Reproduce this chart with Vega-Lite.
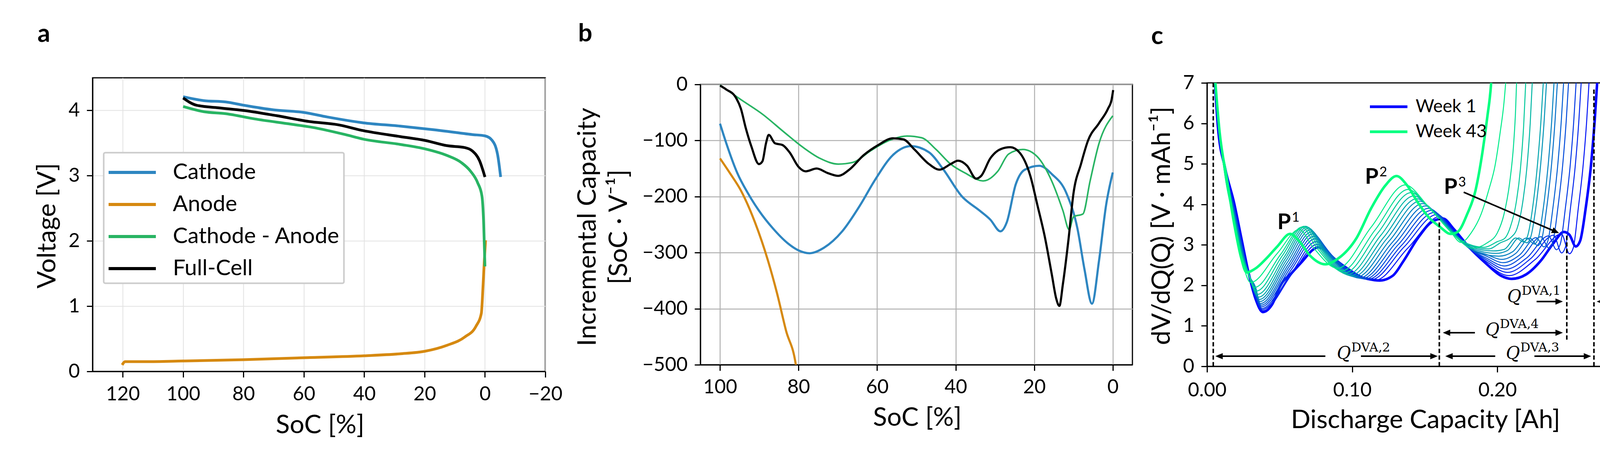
{
  "$schema": "https://vega.github.io/schema/vega-lite/v6.json",
  "background": "white",
  "padding": {"left": 86, "top": 53, "right": 140, "bottom": 0},
  "config": {
    "font": "Lato",
    "view": {"stroke": "black", "strokeWidth": 3},
    "axis": {
      "domainColor": "black", "domainWidth": 3, "tickColor": "black", "tickWidth": 3, "tickSize": 15,
      "labelFont": "Lato", "labelFontSize": 50, "labelColor": "black", "labelPadding": 18,
      "labelFlush": false, "labelOverlap": false,
      "titleFont": "Lato", "titleFontSize": 66, "titleFontWeight": "normal", "titleColor": "black",
      "titleBaseline": "alphabetic", "titleAlign": "center", "grid": false
    },
    "axisX": {"labelBaseline": "alphabetic", "labelPadding": 56},
    "axisY": {"titleAngle": -90},
    "title": {"font": "Lato", "fontSize": 64, "fontWeight": "bold", "anchor": "start", "frame": "group", "color": "black", "baseline": "alphabetic"},
    "legend": {"labelFont": "Lato", "labelColor": "black", "labelLimit": 0, "strokeWidth": 4}
  },
  "datasets": {
    "a": [
      {"s": "Cathode", "x": 100, "y": 4.21}, {"s": "Cathode", "x": 93.1, "y": 4.15}, {"s": "Cathode", "x": 85.9, "y": 4.13},
      {"s": "Cathode", "x": 80, "y": 4.08}, {"s": "Cathode", "x": 70.3, "y": 4.01}, {"s": "Cathode", "x": 60.1, "y": 3.97},
      {"s": "Cathode", "x": 52.3, "y": 3.9}, {"s": "Cathode", "x": 40.3, "y": 3.81}, {"s": "Cathode", "x": 28.2, "y": 3.76},
      {"s": "Cathode", "x": 16.2, "y": 3.7}, {"s": "Cathode", "x": 4.2, "y": 3.63}, {"s": "Cathode", "x": 0, "y": 3.61},
      {"s": "Cathode", "x": -2.4, "y": 3.54}, {"s": "Cathode", "x": -4.2, "y": 3.32}, {"s": "Cathode", "x": -5.2, "y": 2.98},
      {"s": "Anode", "x": 120.2, "y": 0.1}, {"s": "Anode", "x": 119.2, "y": 0.15}, {"s": "Anode", "x": 112.4, "y": 0.15},
      {"s": "Anode", "x": 100, "y": 0.16}, {"s": "Anode", "x": 80, "y": 0.18}, {"s": "Anode", "x": 60, "y": 0.21},
      {"s": "Anode", "x": 40, "y": 0.24}, {"s": "Anode", "x": 28.2, "y": 0.27}, {"s": "Anode", "x": 19.8, "y": 0.31},
      {"s": "Anode", "x": 12.6, "y": 0.4}, {"s": "Anode", "x": 6.6, "y": 0.53}, {"s": "Anode", "x": 3, "y": 0.69},
      {"s": "Anode", "x": 1.2, "y": 0.89}, {"s": "Anode", "x": 0.6, "y": 1.34}, {"s": "Anode", "x": 0.2, "y": 1.7},
      {"s": "Anode", "x": -0.2, "y": 2.01},
      {"s": "Cathode - Anode", "x": 100, "y": 4.06}, {"s": "Cathode - Anode", "x": 93.1, "y": 3.98}, {"s": "Cathode - Anode", "x": 85.9, "y": 3.95},
      {"s": "Cathode - Anode", "x": 76.3, "y": 3.87}, {"s": "Cathode - Anode", "x": 64.3, "y": 3.79}, {"s": "Cathode - Anode", "x": 57.1, "y": 3.74},
      {"s": "Cathode - Anode", "x": 46.3, "y": 3.63}, {"s": "Cathode - Anode", "x": 40.3, "y": 3.56}, {"s": "Cathode - Anode", "x": 28.2, "y": 3.48},
      {"s": "Cathode - Anode", "x": 19.8, "y": 3.41}, {"s": "Cathode - Anode", "x": 12.6, "y": 3.31}, {"s": "Cathode - Anode", "x": 7.8, "y": 3.2},
      {"s": "Cathode - Anode", "x": 4.8, "y": 3.07}, {"s": "Cathode - Anode", "x": 2.4, "y": 2.89}, {"s": "Cathode - Anode", "x": 1, "y": 2.69},
      {"s": "Cathode - Anode", "x": 0.4, "y": 2.24}, {"s": "Cathode - Anode", "x": 0, "y": 1.61},
      {"s": "Full-Cell", "x": 100, "y": 4.19}, {"s": "Full-Cell", "x": 95.6, "y": 4.08}, {"s": "Full-Cell", "x": 88.3, "y": 4.04},
      {"s": "Full-Cell", "x": 80, "y": 4.0}, {"s": "Full-Cell", "x": 69.1, "y": 3.92}, {"s": "Full-Cell", "x": 58.3, "y": 3.83},
      {"s": "Full-Cell", "x": 48.7, "y": 3.78}, {"s": "Full-Cell", "x": 40.3, "y": 3.69}, {"s": "Full-Cell", "x": 28.2, "y": 3.6},
      {"s": "Full-Cell", "x": 19.8, "y": 3.54}, {"s": "Full-Cell", "x": 12.6, "y": 3.46}, {"s": "Full-Cell", "x": 6.6, "y": 3.43},
      {"s": "Full-Cell", "x": 4.2, "y": 3.38}, {"s": "Full-Cell", "x": 1.8, "y": 3.23}, {"s": "Full-Cell", "x": 0, "y": 2.98}
    ],
    "b": [
      {"s": "Cathode", "x": 100, "y": -70}, {"s": "Cathode", "x": 98.4, "y": -105}, {"s": "Cathode", "x": 95.6, "y": -158},
      {"s": "Cathode", "x": 92.9, "y": -194}, {"s": "Cathode", "x": 90.1, "y": -225}, {"s": "Cathode", "x": 86.5, "y": -257},
      {"s": "Cathode", "x": 82.8, "y": -283}, {"s": "Cathode", "x": 80, "y": -296}, {"s": "Cathode", "x": 77.2, "y": -301},
      {"s": "Cathode", "x": 73.5, "y": -291}, {"s": "Cathode", "x": 68.9, "y": -262}, {"s": "Cathode", "x": 64.3, "y": -215},
      {"s": "Cathode", "x": 60.6, "y": -171}, {"s": "Cathode", "x": 56, "y": -126}, {"s": "Cathode", "x": 51.4, "y": -110},
      {"s": "Cathode", "x": 46.8, "y": -121}, {"s": "Cathode", "x": 43.1, "y": -152}, {"s": "Cathode", "x": 38.5, "y": -199},
      {"s": "Cathode", "x": 33.9, "y": -225}, {"s": "Cathode", "x": 31.2, "y": -241}, {"s": "Cathode", "x": 28.6, "y": -262},
      {"s": "Cathode", "x": 27, "y": -246}, {"s": "Cathode", "x": 24.7, "y": -178}, {"s": "Cathode", "x": 22.4, "y": -152},
      {"s": "Cathode", "x": 18.7, "y": -145}, {"s": "Cathode", "x": 15.5, "y": -160}, {"s": "Cathode", "x": 11.8, "y": -194},
      {"s": "Cathode", "x": 9, "y": -257}, {"s": "Cathode", "x": 7.2, "y": -330}, {"s": "Cathode", "x": 5.3, "y": -391},
      {"s": "Cathode", "x": 3.5, "y": -314}, {"s": "Cathode", "x": 1.7, "y": -215}, {"s": "Cathode", "x": 0, "y": -157},
      {"s": "Anode", "x": 100, "y": -132}, {"s": "Anode", "x": 97.5, "y": -158}, {"s": "Anode", "x": 94.7, "y": -189},
      {"s": "Anode", "x": 91.1, "y": -246}, {"s": "Anode", "x": 87.8, "y": -314}, {"s": "Anode", "x": 85.5, "y": -372},
      {"s": "Anode", "x": 83.2, "y": -439}, {"s": "Anode", "x": 80.7, "y": -500}, {"s": "Anode", "x": 80.2, "y": -525},
      {"s": "Cathode - Anode", "x": 100, "y": -1}, {"s": "Cathode - Anode", "x": 94.7, "y": -27}, {"s": "Cathode - Anode", "x": 89.2, "y": -53},
      {"s": "Cathode - Anode", "x": 83.7, "y": -85}, {"s": "Cathode - Anode", "x": 79.1, "y": -111}, {"s": "Cathode - Anode", "x": 74.5, "y": -132},
      {"s": "Cathode - Anode", "x": 69.9, "y": -142}, {"s": "Cathode - Anode", "x": 66.2, "y": -139}, {"s": "Cathode - Anode", "x": 61.6, "y": -118},
      {"s": "Cathode - Anode", "x": 57, "y": -100}, {"s": "Cathode - Anode", "x": 52.4, "y": -92}, {"s": "Cathode - Anode", "x": 48.7, "y": -95},
      {"s": "Cathode - Anode", "x": 45, "y": -116}, {"s": "Cathode - Anode", "x": 41.3, "y": -142}, {"s": "Cathode - Anode", "x": 37.6, "y": -158},
      {"s": "Cathode - Anode", "x": 33, "y": -172}, {"s": "Cathode - Anode", "x": 29.3, "y": -155}, {"s": "Cathode - Anode", "x": 26.5, "y": -124},
      {"s": "Cathode - Anode", "x": 22.9, "y": -116}, {"s": "Cathode - Anode", "x": 19.2, "y": -129}, {"s": "Cathode - Anode", "x": 15.5, "y": -173},
      {"s": "Cathode - Anode", "x": 12.7, "y": -225}, {"s": "Cathode - Anode", "x": 11.1, "y": -259}, {"s": "Cathode - Anode", "x": 10, "y": -236},
      {"s": "Cathode - Anode", "x": 7.6, "y": -231}, {"s": "Cathode - Anode", "x": 5.8, "y": -173}, {"s": "Cathode - Anode", "x": 3.5, "y": -105},
      {"s": "Cathode - Anode", "x": 0, "y": -56},
      {"s": "Full-Cell", "x": 100, "y": -2}, {"s": "Full-Cell", "x": 98.4, "y": -9}, {"s": "Full-Cell", "x": 96.1, "y": -22},
      {"s": "Full-Cell", "x": 94.7, "y": -43}, {"s": "Full-Cell", "x": 93.4, "y": -79}, {"s": "Full-Cell", "x": 92, "y": -111},
      {"s": "Full-Cell", "x": 90.1, "y": -142}, {"s": "Full-Cell", "x": 89.2, "y": -137}, {"s": "Full-Cell", "x": 88.3, "y": -105},
      {"s": "Full-Cell", "x": 87.6, "y": -90}, {"s": "Full-Cell", "x": 86, "y": -105}, {"s": "Full-Cell", "x": 84.1, "y": -108},
      {"s": "Full-Cell", "x": 82.3, "y": -121}, {"s": "Full-Cell", "x": 80, "y": -147}, {"s": "Full-Cell", "x": 78.2, "y": -155},
      {"s": "Full-Cell", "x": 75.4, "y": -150}, {"s": "Full-Cell", "x": 72.6, "y": -158}, {"s": "Full-Cell", "x": 69.9, "y": -163},
      {"s": "Full-Cell", "x": 67.1, "y": -152}, {"s": "Full-Cell", "x": 63.4, "y": -126}, {"s": "Full-Cell", "x": 59.7, "y": -108},
      {"s": "Full-Cell", "x": 56, "y": -96}, {"s": "Full-Cell", "x": 53.3, "y": -98}, {"s": "Full-Cell", "x": 50.5, "y": -116},
      {"s": "Full-Cell", "x": 46.8, "y": -142}, {"s": "Full-Cell", "x": 44.1, "y": -152}, {"s": "Full-Cell", "x": 41.3, "y": -142},
      {"s": "Full-Cell", "x": 39.4, "y": -136}, {"s": "Full-Cell", "x": 37.1, "y": -145}, {"s": "Full-Cell", "x": 34.8, "y": -168},
      {"s": "Full-Cell", "x": 33.5, "y": -163}, {"s": "Full-Cell", "x": 31.2, "y": -132}, {"s": "Full-Cell", "x": 28.4, "y": -115},
      {"s": "Full-Cell", "x": 26.1, "y": -112}, {"s": "Full-Cell", "x": 23.8, "y": -121}, {"s": "Full-Cell", "x": 21, "y": -163},
      {"s": "Full-Cell", "x": 19.2, "y": -215}, {"s": "Full-Cell", "x": 17.3, "y": -272}, {"s": "Full-Cell", "x": 15.5, "y": -340},
      {"s": "Full-Cell", "x": 14.4, "y": -382}, {"s": "Full-Cell", "x": 13.6, "y": -395}, {"s": "Full-Cell", "x": 12.7, "y": -356},
      {"s": "Full-Cell", "x": 11.3, "y": -278}, {"s": "Full-Cell", "x": 10, "y": -194}, {"s": "Full-Cell", "x": 8.1, "y": -142},
      {"s": "Full-Cell", "x": 6.3, "y": -100}, {"s": "Full-Cell", "x": 3.5, "y": -69}, {"s": "Full-Cell", "x": 1.2, "y": -43},
      {"s": "Full-Cell", "x": 0.3, "y": -27}, {"s": "Full-Cell", "x": -0.1, "y": -10}
    ],
    "c": [
      {"s": "Week 1", "x": 0.0045, "y": 7.6}, {"s": "Week 1", "x": 0.0075, "y": 5.92}, {"s": "Week 1", "x": 0.0124, "y": 4.9},
      {"s": "Week 1", "x": 0.0186, "y": 4.04}, {"s": "Week 1", "x": 0.0236, "y": 3.17}, {"s": "Week 1", "x": 0.0286, "y": 2.31},
      {"s": "Week 1", "x": 0.0335, "y": 1.66}, {"s": "Week 1", "x": 0.0385, "y": 1.34}, {"s": "Week 1", "x": 0.0447, "y": 1.52},
      {"s": "Week 1", "x": 0.0509, "y": 2.02}, {"s": "Week 1", "x": 0.0584, "y": 2.31}, {"s": "Week 1", "x": 0.0658, "y": 2.6},
      {"s": "Week 1", "x": 0.0733, "y": 2.89}, {"s": "Week 1", "x": 0.0765, "y": 2.94}, {"s": "Week 1", "x": 0.0832, "y": 2.81},
      {"s": "Week 1", "x": 0.0906, "y": 2.53}, {"s": "Week 1", "x": 0.1006, "y": 2.27}, {"s": "Week 1", "x": 0.1105, "y": 2.16},
      {"s": "Week 1", "x": 0.119, "y": 2.12}, {"s": "Week 1", "x": 0.128, "y": 2.24}, {"s": "Week 1", "x": 0.1353, "y": 2.6},
      {"s": "Week 1", "x": 0.1453, "y": 3.17}, {"s": "Week 1", "x": 0.155, "y": 3.57}, {"s": "Week 1", "x": 0.1625, "y": 3.65},
      {"s": "Week 1", "x": 0.17, "y": 3.39}, {"s": "Week 1", "x": 0.18, "y": 2.96}, {"s": "Week 1", "x": 0.1925, "y": 2.53},
      {"s": "Week 1", "x": 0.2024, "y": 2.24}, {"s": "Week 1", "x": 0.2098, "y": 2.16}, {"s": "Week 1", "x": 0.2198, "y": 2.27},
      {"s": "Week 1", "x": 0.2297, "y": 2.6}, {"s": "Week 1", "x": 0.2384, "y": 3.03}, {"s": "Week 1", "x": 0.2458, "y": 3.32},
      {"s": "Week 1", "x": 0.2496, "y": 3.25}, {"s": "Week 1", "x": 0.254, "y": 2.96}, {"s": "Week 1", "x": 0.257, "y": 3.1},
      {"s": "Week 1", "x": 0.2608, "y": 3.9}, {"s": "Week 1", "x": 0.2645, "y": 4.98}, {"s": "Week 1", "x": 0.267, "y": 6.06},
      {"s": "Week 1", "x": 0.2687, "y": 7.0}, {"s": "Week 1", "x": 0.27, "y": 7.8},

      {"s": "Week 4", "x": 0.0045, "y": 7.6}, {"s": "Week 4", "x": 0.008, "y": 5.95}, {"s": "Week 4", "x": 0.0125, "y": 4.88},
      {"s": "Week 4", "x": 0.0186, "y": 4.0}, {"s": "Week 4", "x": 0.0236, "y": 3.13}, {"s": "Week 4", "x": 0.0286, "y": 2.3},
      {"s": "Week 4", "x": 0.0335, "y": 1.67}, {"s": "Week 4", "x": 0.0383, "y": 1.37}, {"s": "Week 4", "x": 0.0589, "y": 2.3},
      {"s": "Week 4", "x": 0.0758, "y": 3.01}, {"s": "Week 4", "x": 0.0899, "y": 2.61}, {"s": "Week 4", "x": 0.116, "y": 2.13},
      {"s": "Week 4", "x": 0.1383, "y": 2.92}, {"s": "Week 4", "x": 0.1605, "y": 3.7}, {"s": "Week 4", "x": 0.168, "y": 3.43},
      {"s": "Week 4", "x": 0.18, "y": 2.95}, {"s": "Week 4", "x": 0.192, "y": 2.56}, {"s": "Week 4", "x": 0.208, "y": 2.24},
      {"s": "Week 4", "x": 0.2261, "y": 2.64}, {"s": "Week 4", "x": 0.2441, "y": 3.27}, {"s": "Week 4", "x": 0.2496, "y": 2.78},
      {"s": "Week 4", "x": 0.2523, "y": 2.93}, {"s": "Week 4", "x": 0.2557, "y": 3.9}, {"s": "Week 4", "x": 0.2591, "y": 4.98},
      {"s": "Week 4", "x": 0.2615, "y": 6.06}, {"s": "Week 4", "x": 0.2631, "y": 7.0}, {"s": "Week 4", "x": 0.2646, "y": 7.8},

      {"s": "Week 7", "x": 0.0045, "y": 7.6}, {"s": "Week 7", "x": 0.008, "y": 5.95}, {"s": "Week 7", "x": 0.0125, "y": 4.86},
      {"s": "Week 7", "x": 0.0186, "y": 3.97}, {"s": "Week 7", "x": 0.0236, "y": 3.1}, {"s": "Week 7", "x": 0.0286, "y": 2.29},
      {"s": "Week 7", "x": 0.0335, "y": 1.7}, {"s": "Week 7", "x": 0.038, "y": 1.4}, {"s": "Week 7", "x": 0.0584, "y": 2.32},
      {"s": "Week 7", "x": 0.0751, "y": 3.08}, {"s": "Week 7", "x": 0.0884, "y": 2.66}, {"s": "Week 7", "x": 0.113, "y": 2.14},
      {"s": "Week 7", "x": 0.1358, "y": 2.95}, {"s": "Week 7", "x": 0.1585, "y": 3.75}, {"s": "Week 7", "x": 0.168, "y": 3.42},
      {"s": "Week 7", "x": 0.18, "y": 2.94}, {"s": "Week 7", "x": 0.192, "y": 2.6}, {"s": "Week 7", "x": 0.207, "y": 2.32},
      {"s": "Week 7", "x": 0.2229, "y": 2.66}, {"s": "Week 7", "x": 0.2387, "y": 3.24}, {"s": "Week 7", "x": 0.2442, "y": 2.8},
      {"s": "Week 7", "x": 0.2469, "y": 2.95}, {"s": "Week 7", "x": 0.2503, "y": 3.9}, {"s": "Week 7", "x": 0.2537, "y": 4.98},
      {"s": "Week 7", "x": 0.2561, "y": 6.06}, {"s": "Week 7", "x": 0.2577, "y": 7.0}, {"s": "Week 7", "x": 0.2592, "y": 7.8},

      {"s": "Week 10", "x": 0.0045, "y": 7.6}, {"s": "Week 10", "x": 0.008, "y": 5.95}, {"s": "Week 10", "x": 0.0125, "y": 4.85},
      {"s": "Week 10", "x": 0.0186, "y": 3.93}, {"s": "Week 10", "x": 0.0236, "y": 3.06}, {"s": "Week 10", "x": 0.0286, "y": 2.28},
      {"s": "Week 10", "x": 0.0335, "y": 1.73}, {"s": "Week 10", "x": 0.0378, "y": 1.43}, {"s": "Week 10", "x": 0.0579, "y": 2.38},
      {"s": "Week 10", "x": 0.0744, "y": 3.15}, {"s": "Week 10", "x": 0.0872, "y": 2.7}, {"s": "Week 10", "x": 0.111, "y": 2.15},
      {"s": "Week 10", "x": 0.1338, "y": 2.98}, {"s": "Week 10", "x": 0.1565, "y": 3.8}, {"s": "Week 10", "x": 0.168, "y": 3.41},
      {"s": "Week 10", "x": 0.18, "y": 2.93}, {"s": "Week 10", "x": 0.192, "y": 2.64}, {"s": "Week 10", "x": 0.206, "y": 2.4},
      {"s": "Week 10", "x": 0.2206, "y": 2.69}, {"s": "Week 10", "x": 0.2352, "y": 3.22}, {"s": "Week 10", "x": 0.2407, "y": 2.88},
      {"s": "Week 10", "x": 0.2434, "y": 3.03}, {"s": "Week 10", "x": 0.2468, "y": 3.9}, {"s": "Week 10", "x": 0.2502, "y": 4.98},
      {"s": "Week 10", "x": 0.2526, "y": 6.06}, {"s": "Week 10", "x": 0.2542, "y": 7.0}, {"s": "Week 10", "x": 0.2557, "y": 7.8},

      {"s": "Week 13", "x": 0.0045, "y": 7.6}, {"s": "Week 13", "x": 0.008, "y": 5.95}, {"s": "Week 13", "x": 0.0125, "y": 4.83},
      {"s": "Week 13", "x": 0.0186, "y": 3.9}, {"s": "Week 13", "x": 0.0236, "y": 3.03}, {"s": "Week 13", "x": 0.0286, "y": 2.28},
      {"s": "Week 13", "x": 0.0335, "y": 1.77}, {"s": "Week 13", "x": 0.0375, "y": 1.47}, {"s": "Week 13", "x": 0.0574, "y": 2.43},
      {"s": "Week 13", "x": 0.0736, "y": 3.21}, {"s": "Week 13", "x": 0.086, "y": 2.74}, {"s": "Week 13", "x": 0.109, "y": 2.16},
      {"s": "Week 13", "x": 0.1318, "y": 3.01}, {"s": "Week 13", "x": 0.1545, "y": 3.85}, {"s": "Week 13", "x": 0.168, "y": 3.4},
      {"s": "Week 13", "x": 0.18, "y": 2.93}, {"s": "Week 13", "x": 0.192, "y": 2.68}, {"s": "Week 13", "x": 0.205, "y": 2.48},
      {"s": "Week 13", "x": 0.2175, "y": 2.72}, {"s": "Week 13", "x": 0.23, "y": 3.2}, {"s": "Week 13", "x": 0.2355, "y": 2.92},
      {"s": "Week 13", "x": 0.2382, "y": 3.07}, {"s": "Week 13", "x": 0.2416, "y": 3.9}, {"s": "Week 13", "x": 0.245, "y": 4.98},
      {"s": "Week 13", "x": 0.2474, "y": 6.06}, {"s": "Week 13", "x": 0.249, "y": 7.0}, {"s": "Week 13", "x": 0.2505, "y": 7.8},

      {"s": "Week 16", "x": 0.0045, "y": 7.6}, {"s": "Week 16", "x": 0.008, "y": 5.95}, {"s": "Week 16", "x": 0.0125, "y": 4.81},
      {"s": "Week 16", "x": 0.0186, "y": 3.86}, {"s": "Week 16", "x": 0.0236, "y": 2.99}, {"s": "Week 16", "x": 0.0286, "y": 2.27},
      {"s": "Week 16", "x": 0.0335, "y": 1.81}, {"s": "Week 16", "x": 0.0372, "y": 1.51}, {"s": "Week 16", "x": 0.0568, "y": 2.48},
      {"s": "Week 16", "x": 0.0728, "y": 3.27}, {"s": "Week 16", "x": 0.0848, "y": 2.78}, {"s": "Week 16", "x": 0.107, "y": 2.17},
      {"s": "Week 16", "x": 0.1298, "y": 3.04}, {"s": "Week 16", "x": 0.1525, "y": 3.9}, {"s": "Week 16", "x": 0.168, "y": 3.39},
      {"s": "Week 16", "x": 0.18, "y": 2.93}, {"s": "Week 16", "x": 0.192, "y": 2.73}, {"s": "Week 16", "x": 0.204, "y": 2.56},
      {"s": "Week 16", "x": 0.2153, "y": 2.75}, {"s": "Week 16", "x": 0.2266, "y": 3.18}, {"s": "Week 16", "x": 0.2321, "y": 2.95},
      {"s": "Week 16", "x": 0.2348, "y": 3.1}, {"s": "Week 16", "x": 0.2382, "y": 3.9}, {"s": "Week 16", "x": 0.2416, "y": 4.98},
      {"s": "Week 16", "x": 0.244, "y": 6.06}, {"s": "Week 16", "x": 0.2456, "y": 7.0}, {"s": "Week 16", "x": 0.2471, "y": 7.8},

      {"s": "Week 19", "x": 0.0045, "y": 7.6}, {"s": "Week 19", "x": 0.008, "y": 5.95}, {"s": "Week 19", "x": 0.0125, "y": 4.79},
      {"s": "Week 19", "x": 0.0186, "y": 3.83}, {"s": "Week 19", "x": 0.0236, "y": 2.96}, {"s": "Week 19", "x": 0.0286, "y": 2.27},
      {"s": "Week 19", "x": 0.0335, "y": 1.85}, {"s": "Week 19", "x": 0.0368, "y": 1.55}, {"s": "Week 19", "x": 0.0561, "y": 2.52},
      {"s": "Week 19", "x": 0.0719, "y": 3.32}, {"s": "Week 19", "x": 0.0835, "y": 2.81}, {"s": "Week 19", "x": 0.105, "y": 2.18},
      {"s": "Week 19", "x": 0.1278, "y": 3.07}, {"s": "Week 19", "x": 0.1505, "y": 3.96}, {"s": "Week 19", "x": 0.1593, "y": 3.72},
      {"s": "Week 19", "x": 0.168, "y": 3.38}, {"s": "Week 19", "x": 0.18, "y": 2.93}, {"s": "Week 19", "x": 0.192, "y": 2.77},
      {"s": "Week 19", "x": 0.203, "y": 2.64}, {"s": "Week 19", "x": 0.2127, "y": 2.79}, {"s": "Week 19", "x": 0.2223, "y": 3.17},
      {"s": "Week 19", "x": 0.2278, "y": 2.98}, {"s": "Week 19", "x": 0.2305, "y": 3.13}, {"s": "Week 19", "x": 0.2339, "y": 3.9},
      {"s": "Week 19", "x": 0.2373, "y": 4.98}, {"s": "Week 19", "x": 0.2397, "y": 6.06}, {"s": "Week 19", "x": 0.2413, "y": 7.0},
      {"s": "Week 19", "x": 0.2428, "y": 7.8},

      {"s": "Week 22", "x": 0.0045, "y": 7.6}, {"s": "Week 22", "x": 0.008, "y": 5.95}, {"s": "Week 22", "x": 0.0125, "y": 4.78},
      {"s": "Week 22", "x": 0.0186, "y": 3.79}, {"s": "Week 22", "x": 0.0236, "y": 2.92}, {"s": "Week 22", "x": 0.0286, "y": 2.27},
      {"s": "Week 22", "x": 0.0335, "y": 1.9}, {"s": "Week 22", "x": 0.0364, "y": 1.6}, {"s": "Week 22", "x": 0.0554, "y": 2.57},
      {"s": "Week 22", "x": 0.071, "y": 3.37}, {"s": "Week 22", "x": 0.0822, "y": 2.84}, {"s": "Week 22", "x": 0.103, "y": 2.2},
      {"s": "Week 22", "x": 0.1258, "y": 3.11}, {"s": "Week 22", "x": 0.1485, "y": 4.02}, {"s": "Week 22", "x": 0.1583, "y": 3.75},
      {"s": "Week 22", "x": 0.168, "y": 3.37}, {"s": "Week 22", "x": 0.18, "y": 2.94}, {"s": "Week 22", "x": 0.201, "y": 2.72},
      {"s": "Week 22", "x": 0.2105, "y": 2.83}, {"s": "Week 22", "x": 0.22, "y": 3.17}, {"s": "Week 22", "x": 0.2255, "y": 3.02},
      {"s": "Week 22", "x": 0.2282, "y": 3.17}, {"s": "Week 22", "x": 0.2316, "y": 3.9}, {"s": "Week 22", "x": 0.235, "y": 4.98},
      {"s": "Week 22", "x": 0.2374, "y": 6.06}, {"s": "Week 22", "x": 0.239, "y": 7.0}, {"s": "Week 22", "x": 0.2405, "y": 7.8},

      {"s": "Week 25", "x": 0.0045, "y": 7.6}, {"s": "Week 25", "x": 0.008, "y": 5.95}, {"s": "Week 25", "x": 0.0125, "y": 4.76},
      {"s": "Week 25", "x": 0.0186, "y": 3.75}, {"s": "Week 25", "x": 0.0236, "y": 2.88}, {"s": "Week 25", "x": 0.0286, "y": 2.27},
      {"s": "Week 25", "x": 0.0335, "y": 1.95}, {"s": "Week 25", "x": 0.036, "y": 1.65}, {"s": "Week 25", "x": 0.0547, "y": 2.62},
      {"s": "Week 25", "x": 0.07, "y": 3.41}, {"s": "Week 25", "x": 0.0809, "y": 2.87}, {"s": "Week 25", "x": 0.101, "y": 2.22},
      {"s": "Week 25", "x": 0.1238, "y": 3.15}, {"s": "Week 25", "x": 0.1465, "y": 4.08}, {"s": "Week 25", "x": 0.1573, "y": 3.77},
      {"s": "Week 25", "x": 0.168, "y": 3.36}, {"s": "Week 25", "x": 0.18, "y": 2.95}, {"s": "Week 25", "x": 0.199, "y": 2.79},
      {"s": "Week 25", "x": 0.2069, "y": 2.86}, {"s": "Week 25", "x": 0.2148, "y": 3.17}, {"s": "Week 25", "x": 0.2203, "y": 3.05},
      {"s": "Week 25", "x": 0.223, "y": 3.2}, {"s": "Week 25", "x": 0.2264, "y": 3.9}, {"s": "Week 25", "x": 0.2298, "y": 4.98},
      {"s": "Week 25", "x": 0.2322, "y": 6.06}, {"s": "Week 25", "x": 0.2338, "y": 7.0}, {"s": "Week 25", "x": 0.2353, "y": 7.8},

      {"s": "Week 28", "x": 0.0045, "y": 7.6}, {"s": "Week 28", "x": 0.008, "y": 5.95}, {"s": "Week 28", "x": 0.0125, "y": 4.74},
      {"s": "Week 28", "x": 0.0186, "y": 3.72}, {"s": "Week 28", "x": 0.0236, "y": 2.85}, {"s": "Week 28", "x": 0.0286, "y": 2.28},
      {"s": "Week 28", "x": 0.0355, "y": 1.71}, {"s": "Week 28", "x": 0.0539, "y": 2.66}, {"s": "Week 28", "x": 0.069, "y": 3.44},
      {"s": "Week 28", "x": 0.0795, "y": 2.9}, {"s": "Week 28", "x": 0.099, "y": 2.24}, {"s": "Week 28", "x": 0.1218, "y": 3.19},
      {"s": "Week 28", "x": 0.1445, "y": 4.14}, {"s": "Week 28", "x": 0.1563, "y": 3.8}, {"s": "Week 28", "x": 0.168, "y": 3.35},
      {"s": "Week 28", "x": 0.18, "y": 2.97}, {"s": "Week 28", "x": 0.197, "y": 2.85}, {"s": "Week 28", "x": 0.2048, "y": 2.89},
      {"s": "Week 28", "x": 0.2126, "y": 3.17}, {"s": "Week 28", "x": 0.2181, "y": 3.07}, {"s": "Week 28", "x": 0.2208, "y": 3.22},
      {"s": "Week 28", "x": 0.2242, "y": 3.9}, {"s": "Week 28", "x": 0.2276, "y": 4.98}, {"s": "Week 28", "x": 0.23, "y": 6.06},
      {"s": "Week 28", "x": 0.2316, "y": 7.0}, {"s": "Week 28", "x": 0.2331, "y": 7.8},

      {"s": "Week 31", "x": 0.0045, "y": 7.6}, {"s": "Week 31", "x": 0.008, "y": 5.95}, {"s": "Week 31", "x": 0.0125, "y": 4.72},
      {"s": "Week 31", "x": 0.0186, "y": 3.68}, {"s": "Week 31", "x": 0.0236, "y": 2.81}, {"s": "Week 31", "x": 0.0286, "y": 2.29},
      {"s": "Week 31", "x": 0.0349, "y": 1.78}, {"s": "Week 31", "x": 0.0531, "y": 2.7}, {"s": "Week 31", "x": 0.068, "y": 3.46},
      {"s": "Week 31", "x": 0.0782, "y": 2.92}, {"s": "Week 31", "x": 0.097, "y": 2.27}, {"s": "Week 31", "x": 0.1198, "y": 3.24},
      {"s": "Week 31", "x": 0.1425, "y": 4.21}, {"s": "Week 31", "x": 0.1553, "y": 3.83}, {"s": "Week 31", "x": 0.168, "y": 3.34},
      {"s": "Week 31", "x": 0.18, "y": 3.0}, {"s": "Week 31", "x": 0.194, "y": 2.9}, {"s": "Week 31", "x": 0.202, "y": 3.05},
      {"s": "Week 31", "x": 0.2095, "y": 3.19}, {"s": "Week 31", "x": 0.2135, "y": 3.4}, {"s": "Week 31", "x": 0.217, "y": 3.95},
      {"s": "Week 31", "x": 0.2203, "y": 4.9}, {"s": "Week 31", "x": 0.2226, "y": 6.0}, {"s": "Week 31", "x": 0.224, "y": 7.0},
      {"s": "Week 31", "x": 0.2255, "y": 7.8},

      {"s": "Week 34", "x": 0.0045, "y": 7.6}, {"s": "Week 34", "x": 0.008, "y": 5.95}, {"s": "Week 34", "x": 0.0125, "y": 4.7},
      {"s": "Week 34", "x": 0.0186, "y": 3.65}, {"s": "Week 34", "x": 0.0236, "y": 2.78}, {"s": "Week 34", "x": 0.0286, "y": 2.31},
      {"s": "Week 34", "x": 0.034, "y": 1.86}, {"s": "Week 34", "x": 0.052, "y": 2.74}, {"s": "Week 34", "x": 0.0668, "y": 3.46},
      {"s": "Week 34", "x": 0.0767, "y": 2.94}, {"s": "Week 34", "x": 0.095, "y": 2.31}, {"s": "Week 34", "x": 0.1178, "y": 3.3},
      {"s": "Week 34", "x": 0.1405, "y": 4.29}, {"s": "Week 34", "x": 0.1543, "y": 3.86}, {"s": "Week 34", "x": 0.168, "y": 3.33},
      {"s": "Week 34", "x": 0.18, "y": 3.02}, {"s": "Week 34", "x": 0.191, "y": 2.94}, {"s": "Week 34", "x": 0.2, "y": 3.08},
      {"s": "Week 34", "x": 0.205, "y": 3.16}, {"s": "Week 34", "x": 0.209, "y": 3.45}, {"s": "Week 34", "x": 0.2125, "y": 3.95},
      {"s": "Week 34", "x": 0.2158, "y": 4.85}, {"s": "Week 34", "x": 0.2181, "y": 5.95}, {"s": "Week 34", "x": 0.2195, "y": 7.0},
      {"s": "Week 34", "x": 0.221, "y": 7.8},

      {"s": "Week 37", "x": 0.0045, "y": 7.6}, {"s": "Week 37", "x": 0.008, "y": 5.95}, {"s": "Week 37", "x": 0.0125, "y": 4.69},
      {"s": "Week 37", "x": 0.0186, "y": 3.61}, {"s": "Week 37", "x": 0.0236, "y": 2.74}, {"s": "Week 37", "x": 0.0286, "y": 2.25},
      {"s": "Week 37", "x": 0.0328, "y": 1.95}, {"s": "Week 37", "x": 0.0508, "y": 2.77}, {"s": "Week 37", "x": 0.0655, "y": 3.44},
      {"s": "Week 37", "x": 0.0751, "y": 2.95}, {"s": "Week 37", "x": 0.093, "y": 2.36}, {"s": "Week 37", "x": 0.1158, "y": 3.37},
      {"s": "Week 37", "x": 0.1385, "y": 4.37}, {"s": "Week 37", "x": 0.1533, "y": 3.9}, {"s": "Week 37", "x": 0.168, "y": 3.32},
      {"s": "Week 37", "x": 0.183, "y": 2.92}, {"s": "Week 37", "x": 0.193, "y": 3.05}, {"s": "Week 37", "x": 0.2, "y": 3.3},
      {"s": "Week 37", "x": 0.2045, "y": 3.75}, {"s": "Week 37", "x": 0.2085, "y": 4.55}, {"s": "Week 37", "x": 0.2112, "y": 5.5},
      {"s": "Week 37", "x": 0.2125, "y": 6.3}, {"s": "Week 37", "x": 0.2132, "y": 7.0}, {"s": "Week 37", "x": 0.2147, "y": 7.8},

      {"s": "Week 40", "x": 0.0045, "y": 7.6}, {"s": "Week 40", "x": 0.008, "y": 5.95}, {"s": "Week 40", "x": 0.0125, "y": 4.67},
      {"s": "Week 40", "x": 0.0186, "y": 3.58}, {"s": "Week 40", "x": 0.0236, "y": 2.71}, {"s": "Week 40", "x": 0.03, "y": 2.07},
      {"s": "Week 40", "x": 0.0484, "y": 2.79}, {"s": "Week 40", "x": 0.0635, "y": 3.38}, {"s": "Week 40", "x": 0.0728, "y": 2.95},
      {"s": "Week 40", "x": 0.09, "y": 2.42}, {"s": "Week 40", "x": 0.1133, "y": 3.45}, {"s": "Week 40", "x": 0.1365, "y": 4.48},
      {"s": "Week 40", "x": 0.1523, "y": 3.95}, {"s": "Week 40", "x": 0.168, "y": 3.31}, {"s": "Week 40", "x": 0.1749, "y": 3.06},
      {"s": "Week 40", "x": 0.182, "y": 3.3}, {"s": "Week 40", "x": 0.1888, "y": 3.76}, {"s": "Week 40", "x": 0.194, "y": 4.35},
      {"s": "Week 40", "x": 0.1984, "y": 4.96}, {"s": "Week 40", "x": 0.202, "y": 5.8}, {"s": "Week 40", "x": 0.2045, "y": 6.5},
      {"s": "Week 40", "x": 0.2057, "y": 7.0}, {"s": "Week 40", "x": 0.2072, "y": 7.8},

      {"s": "Week 43", "x": 0.0045, "y": 7.6}, {"s": "Week 43", "x": 0.0087, "y": 5.77}, {"s": "Week 43", "x": 0.0137, "y": 4.62},
      {"s": "Week 43", "x": 0.0186, "y": 3.54}, {"s": "Week 43", "x": 0.0236, "y": 2.67}, {"s": "Week 43", "x": 0.0272, "y": 2.32},
      {"s": "Week 43", "x": 0.0335, "y": 2.42}, {"s": "Week 43", "x": 0.041, "y": 2.67}, {"s": "Week 43", "x": 0.0484, "y": 2.96},
      {"s": "Week 43", "x": 0.0572, "y": 3.27}, {"s": "Week 43", "x": 0.0633, "y": 3.1}, {"s": "Week 43", "x": 0.0708, "y": 2.74},
      {"s": "Week 43", "x": 0.0815, "y": 2.52}, {"s": "Week 43", "x": 0.0906, "y": 2.67}, {"s": "Week 43", "x": 0.103, "y": 3.17},
      {"s": "Week 43", "x": 0.113, "y": 3.9}, {"s": "Week 43", "x": 0.1229, "y": 4.47}, {"s": "Week 43", "x": 0.1305, "y": 4.7},
      {"s": "Week 43", "x": 0.1378, "y": 4.47}, {"s": "Week 43", "x": 0.1453, "y": 4.04}, {"s": "Week 43", "x": 0.1527, "y": 3.68},
      {"s": "Week 43", "x": 0.1602, "y": 3.45}, {"s": "Week 43", "x": 0.168, "y": 3.27}, {"s": "Week 43", "x": 0.1726, "y": 3.32},
      {"s": "Week 43", "x": 0.1792, "y": 3.76}, {"s": "Week 43", "x": 0.1849, "y": 4.34}, {"s": "Week 43", "x": 0.1898, "y": 5.31},
      {"s": "Week 43", "x": 0.1931, "y": 6.17}, {"s": "Week 43", "x": 0.1957, "y": 7.0}, {"s": "Week 43", "x": 0.197, "y": 7.8}
    ],
    "dash": [
      {"x": 0.0043, "y": 0, "y2": 7},
      {"x": 0.16, "y": 0, "y2": 3.64},
      {"x": 0.2478, "y": 0.66, "y2": 3.28},
      {"x": 0.2665, "y": 0, "y2": 6.86}
    ],
    "arr": [
      {"x": 0.0815, "x2": 0.0087, "tip": 0.0057, "y": 0.25, "d": "L"},
      {"x": 0.106, "x2": 0.1559, "tip": 0.1589, "y": 0.25, "d": "R"},
      {"x": 0.1845, "x2": 0.1654, "tip": 0.1624, "y": 0.83, "d": "L"},
      {"x": 0.2092, "x2": 0.2421, "tip": 0.2451, "y": 0.83, "d": "R"},
      {"x": 0.1985, "x2": 0.1671, "tip": 0.1641, "y": 0.25, "d": "L"},
      {"x": 0.2255, "x2": 0.2616, "tip": 0.2646, "y": 0.25, "d": "R"},
      {"x": 0.227, "x2": 0.2421, "tip": 0.2451, "y": 1.6, "d": "R"},
      {"x": 0.2835, "x2": 0.2714, "tip": 0.2684, "y": 1.6, "d": "L"}
    ],
    "p3": [
      {"x": 0.1768, "y": 4.3, "x2": 0.2388, "y2": 3.346, "tx": 0.2425, "ty": 3.29}
    ],
    "plab": [
      {"x": 0.0484, "y": 3.39, "t": "P", "n": "1"},
      {"x": 0.1088, "y": 4.51, "t": "P", "n": "2"},
      {"x": 0.1631, "y": 4.26, "t": "P", "n": "3"}
    ],
    "qlab": [
      {"x": 0.0894, "y": 0.18, "t": "Q", "n": "DVA,2"},
      {"x": 0.2068, "y": 1.58, "t": "Q", "n": "DVA,1"},
      {"x": 0.1917, "y": 0.76, "t": "Q", "n": "DVA,4"},
      {"x": 0.2058, "y": 0.18, "t": "Q", "n": "DVA,3"}
    ]
  },
  "hconcat": [
    {
      "width": 1159,
      "height": 751,
      "title": {"text": "a", "dx": -141, "offset": 79},
      "data": {"name": "a"},
      "mark": {"type": "line", "strokeWidth": 7, "interpolate": "monotone", "clip": true},
      "encoding": {
        "x": {
          "field": "x", "type": "quantitative",
          "scale": {"domain": [130, -20], "nice": false, "zero": false},
          "axis": {"values": [120, 100, 80, 60, 40, 20, 0, -20], "grid": true, "gridColor": "#e2e2e2", "gridWidth": 2,
            "labelPadding": 58, "title": "SoC [%]", "titleX": 582, "titleY": 157}
        },
        "y": {
          "field": "y", "type": "quantitative",
          "scale": {"domain": [0, 4.5], "nice": false, "zero": false},
          "axis": {"values": [0, 1, 2, 3, 4], "grid": true, "gridColor": "#e2e2e2", "gridWidth": 2, "title": "Voltage [V]", "titleX": -96, "titleY": 378}
        },
        "color": {
          "field": "s", "type": "nominal",
          "scale": {"domain": ["Cathode", "Anode", "Cathode - Anode", "Full-Cell"], "range": ["#2E86C1", "#D68910", "#28B463", "#000000"]},
          "legend": {
            "title": null, "orient": "none", "legendX": 28.5, "legendY": 191.5,
            "symbolType": "M-1.635,0L1.635,0", "symbolSize": 5476, "symbolStrokeWidth": 8, "symbolOffset": 22.5,
            "labelFontSize": 57, "labelOffset": 63, "rowPadding": 13, "padding": 9.5,
            "labelExpr": "datum.label + '\u00a0\u00a0\u00a0\u00a0\u00a0\u00a0'",
            "strokeColor": "#cccccc", "fillColor": "white", "cornerRadius": 4
          }
        }
      }
    },
    {"width": 15, "height": 1, "data": {"values": []}, "mark": "point", "view": {"stroke": null}},
    {
      "width": 1106,
      "height": 717,
      "title": {"text": "b", "dx": -313, "offset": 72.5},
      "data": {"name": "b"},
      "mark": {"type": "line", "interpolate": "monotone", "clip": true},
      "encoding": {
        "x": {
          "field": "x", "type": "quantitative",
          "scale": {"domain": [105, -5], "nice": false, "zero": false},
          "axis": {"values": [100, 80, 60, 40, 20, 0], "grid": true, "gridColor": "#b0b0b0", "gridWidth": 2.5,
            "labelPadding": 57, "title": "SoC [%]", "titleX": 555, "titleY": 155}
        },
        "y": {
          "field": "y", "type": "quantitative",
          "scale": {"domain": [-500, 0], "nice": false, "zero": false},
          "axis": {"values": [0, -100, -200, -300, -400, -500], "grid": true, "gridColor": "#b0b0b0", "gridWidth": 2.5,
            "title": ["Incremental Capacity", "[SoC · V⁻¹]"], "titleX": -269, "titleY": 364, "titleLineHeight": 80}
        },
        "color": {
          "field": "s", "type": "nominal",
          "scale": {"domain": ["Cathode", "Anode", "Cathode - Anode", "Full-Cell"], "range": ["#2E86C1", "#D68910", "#28B463", "#000000"]},
          "legend": null
        },
        "strokeWidth": {"condition": {"test": "datum.s === 'Cathode - Anode'", "value": 4}, "value": 5.5}
      }
    },
    {
      "width": 1115,
      "height": 725,
      "title": {"text": "c", "dx": -143, "offset": 61.5},
      "layer": [
        {
          "data": {"name": "c"},
          "mark": {"type": "line", "interpolate": "monotone", "clip": true},
          "encoding": {
            "x": {
              "field": "x", "type": "quantitative",
              "scale": {"domain": [0, 0.3], "nice": false, "zero": false},
              "axis": {"values": [0, 0.1, 0.2, 0.3], "format": ".2f", "labelPadding": 61, "title": "Discharge Capacity [Ah]", "titleX": 559, "titleY": 157}
            },
            "y": {
              "field": "y", "type": "quantitative",
              "scale": {"domain": [0, 7], "nice": false, "zero": false},
              "axis": {"values": [0, 1, 2, 3, 4, 5, 6, 7], "format": "d", "title": "dV/dQ(Q) [V · mAh⁻¹]", "titleX": -96, "titleY": 365}
            },
            "color": {
              "field": "s", "type": "nominal",
              "scale": {
                "domain": ["Week 1", "Week 4", "Week 7", "Week 10", "Week 13", "Week 16", "Week 19", "Week 22", "Week 25", "Week 28", "Week 31", "Week 34", "Week 37", "Week 40", "Week 43"],
                "range": ["#0000ff", "#0012f6", "#0024ed", "#0037e4", "#0049db", "#005bd2", "#006dc8", "#0080bf", "#0092b6", "#00a4ad", "#00b6a4", "#00c89b", "#00db92", "#00ed89", "#00ff80"]
              },
              "legend": {
                "values": ["Week 1", "Week 43"], "title": null, "orient": "none", "legendX": 417, "legendY": 27,
                "symbolType": "M-1.574,0L1.574,0", "symbolSize": 3721, "symbolStrokeWidth": 7, "symbolOffset": 14,
                "labelFontSize": 46, "labelOffset": 35, "rowPadding": 7, "padding": 0
              }
            },
            "strokeWidth": {"condition": {"test": "datum.s === 'Week 1' || datum.s === 'Week 43'", "value": 6.5}, "value": 2.5}
          }
        },
        {
          "data": {"name": "dash"},
          "mark": {"type": "rule", "color": "black", "strokeWidth": 4, "strokeDash": [11, 6]},
          "encoding": {
            "x": {"field": "x", "type": "quantitative"},
            "y": {"field": "y", "type": "quantitative"},
            "y2": {"field": "y2"}
          }
        },
        {
          "data": {"name": "arr"},
          "mark": {"type": "rule", "color": "black", "strokeWidth": 4},
          "encoding": {
            "x": {"field": "x", "type": "quantitative"},
            "x2": {"field": "x2"},
            "y": {"field": "y", "type": "quantitative"}
          }
        },
        {
          "data": {"name": "arr"},
          "transform": [{"filter": "datum.d === 'L'"}],
          "mark": {"type": "point", "shape": "M0,0L1,-0.42L1,0.42Z", "filled": true, "size": 1444, "color": "black", "opacity": 1},
          "encoding": {
            "x": {"field": "tip", "type": "quantitative"},
            "y": {"field": "y", "type": "quantitative"}
          }
        },
        {
          "data": {"name": "arr"},
          "transform": [{"filter": "datum.d === 'R'"}],
          "mark": {"type": "point", "shape": "M0,0L-1,-0.42L-1,0.42Z", "filled": true, "size": 1444, "color": "black", "opacity": 1},
          "encoding": {
            "x": {"field": "tip", "type": "quantitative"},
            "y": {"field": "y", "type": "quantitative"}
          }
        },
        {
          "data": {"name": "p3"},
          "mark": {"type": "rule", "color": "black", "strokeWidth": 4},
          "encoding": {
            "x": {"field": "x", "type": "quantitative"},
            "y": {"field": "y", "type": "quantitative"},
            "x2": {"field": "x2"},
            "y2": {"field": "y2"}
          }
        },
        {
          "data": {"name": "p3"},
          "mark": {"type": "point", "shape": "M0,0L-1,-0.42L-1,0.42Z", "filled": true, "size": 1444, "color": "black", "opacity": 1, "angle": 23.3},
          "encoding": {
            "x": {"field": "tx", "type": "quantitative"},
            "y": {"field": "ty", "type": "quantitative"}
          }
        },
        {
          "data": {"name": "plab"},
          "mark": {"type": "text", "font": "Lato", "fontWeight": "bold", "fontSize": 56, "align": "left", "baseline": "alphabetic", "color": "black"},
          "encoding": {
            "x": {"field": "x", "type": "quantitative"},
            "y": {"field": "y", "type": "quantitative"},
            "text": {"field": "t"}
          }
        },
        {
          "data": {"name": "plab"},
          "mark": {"type": "text", "font": "Lato", "fontSize": 34, "align": "left", "baseline": "alphabetic", "dx": 37, "dy": -19, "color": "black"},
          "encoding": {
            "x": {"field": "x", "type": "quantitative"},
            "y": {"field": "y", "type": "quantitative"},
            "text": {"field": "n"}
          }
        },
        {
          "data": {"name": "qlab"},
          "mark": {"type": "text", "font": "DejaVu Serif", "fontStyle": "italic", "fontSize": 44, "align": "left", "baseline": "alphabetic", "color": "black"},
          "encoding": {
            "x": {"field": "x", "type": "quantitative"},
            "y": {"field": "y", "type": "quantitative"},
            "text": {"field": "t"}
          }
        },
        {
          "data": {"name": "qlab"},
          "mark": {"type": "text", "font": "DejaVu Serif", "fontSize": 32, "align": "left", "baseline": "alphabetic", "dx": 37, "dy": -19, "color": "black"},
          "encoding": {
            "x": {"field": "x", "type": "quantitative"},
            "y": {"field": "y", "type": "quantitative"},
            "text": {"field": "n"}
          }
        }
      ]
    }
  ],
  "spacing": 191,
  "bounds": "flush",
  "center": true,
  "resolve": {"scale": {"color": "independent"}, "legend": {"color": "independent"}}
}
